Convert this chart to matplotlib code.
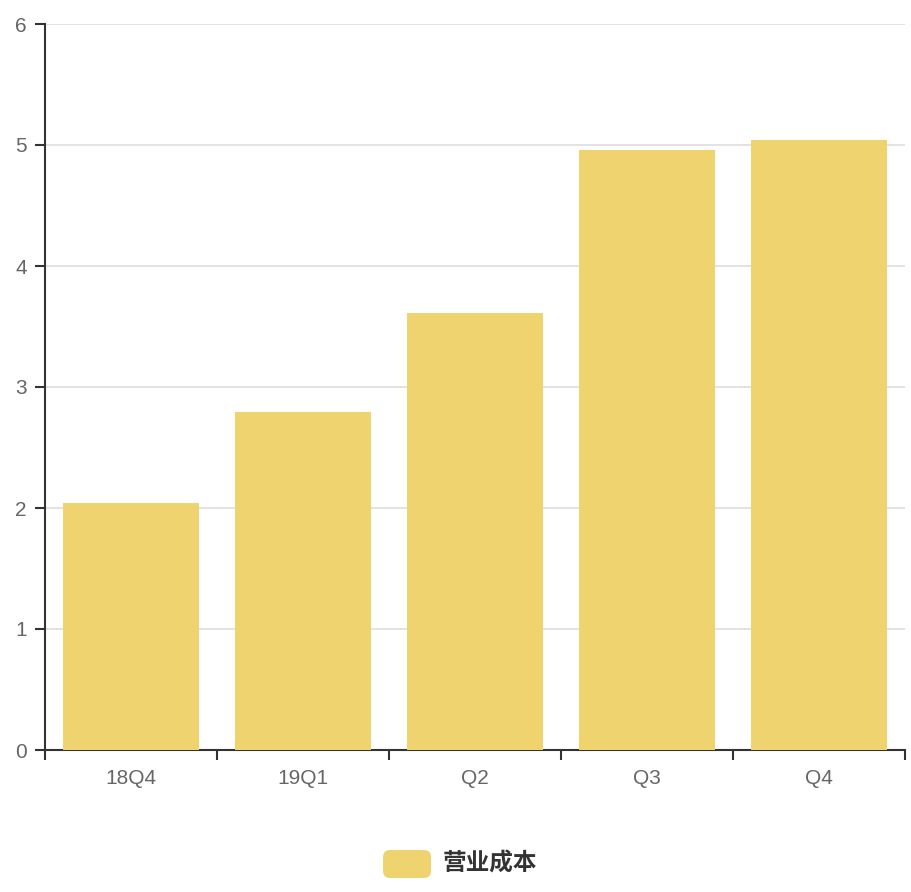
import matplotlib
matplotlib.use("Agg")
import matplotlib.pyplot as plt
from matplotlib.patches import FancyBboxPatch

# Données
quarters = ["18Q4", "19Q1", "Q2", "Q3", "Q4"]
cost = [2.04, 2.79, 3.61, 4.96, 5.04]
y_ticks = [0, 1, 2, 3, 4, 5, 6]
series_name = "营业成本"

bar_color = "#eed36f"
text_color = "#666666"
axis_color = "#333333"

plt.rcParams["font.family"] = ["Liberation Sans", "Noto Sans CJK SC", "DejaVu Sans"]

fig = plt.figure(figsize=(9.12, 8.92), dpi=100)
ax = fig.add_axes([45 / 912, 1 - 750 / 892, 860 / 912, 726 / 892])

x = range(len(quarters))
ax.bar(x, cost, width=0.79, color=bar_color, zorder=3)

ax.set_xlim(-0.5, len(quarters) - 0.5)
ax.set_ylim(0, 6)
ax.set_yticks(y_ticks)
ax.set_yticklabels([str(v) for v in y_ticks])
ax.yaxis.grid(True, color="#e0e0e0", linewidth=1.3, zorder=0)

# ticks aux limites des catégories
ax.set_xticks([i - 0.5 for i in range(len(quarters) + 1)])
ax.set_xticklabels([])
ax.set_xticks(list(x), minor=True)
ax.set_xticklabels(quarters, minor=True)
ax.tick_params(axis="x", which="minor", length=0, pad=14, labelsize=15, labelcolor=text_color)
ax.tick_params(axis="x", which="major", length=7, width=1.5, color=axis_color, direction="out")
ax.tick_params(axis="y", length=7, width=1.5, color=axis_color, pad=6, labelsize=15, labelcolor=text_color)

for side in ["top", "right"]:
    ax.spines[side].set_visible(False)
for side in ["left", "bottom"]:
    ax.spines[side].set_color(axis_color)
    ax.spines[side].set_linewidth(1.5)

# Légende
box = FancyBboxPatch((383 / 912, 1 - 878 / 892), 48 / 912, 28 / 892,
                     boxstyle="round,pad=0,rounding_size=0.008",
                     transform=fig.transFigure, facecolor=bar_color, edgecolor="none")
fig.patches.append(box)
fig.text(443 / 912, 1 - 864 / 892, series_name, fontsize=17, fontweight="bold",
         color=axis_color, va="center", ha="left",
         family=["Noto Sans CJK SC", "DejaVu Sans"])

fig.savefig("out.png", dpi=100)
